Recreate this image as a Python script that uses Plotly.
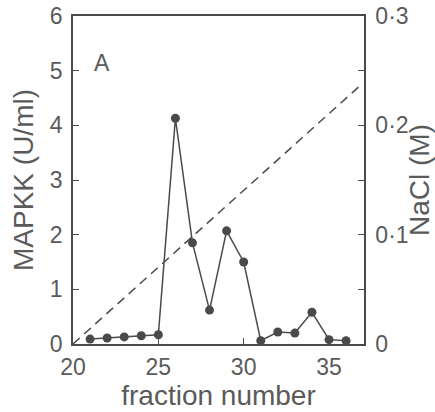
import plotly.graph_objects as go

fractions = [21, 22, 23, 24, 25, 26, 27, 28, 29, 30, 31, 32, 33, 34, 35, 36]
mapkk = [0.09, 0.11, 0.13, 0.15, 0.17, 4.13, 1.85, 0.62, 2.07, 1.50, 0.06, 0.22, 0.20, 0.58, 0.08, 0.06]

gradient_fraction = [20, 36.8]
gradient_nacl = [0, 0.236]

x_ticks = [20, 25, 30, 35]
y_ticks = [0, 1, 2, 3, 4, 5, 6]
y2_ticks = [0, 0.05, 0.1, 0.15, 0.2, 0.25, 0.3]
y2_labels = ["0", "", "0·1", "", "0·2", "", "0·3"]

ink = "#4a4a4a"
font = dict(family="Liberation Sans, Arial, sans-serif", size=23, color="#5a5a5a")

fig = go.Figure()
fig.add_trace(go.Scatter(
    x=gradient_fraction, y=gradient_nacl, yaxis="y2", mode="lines",
    line=dict(color=ink, width=1.5, dash="9px,6px"), showlegend=False,
    hoverinfo="skip"))
fig.add_trace(go.Scatter(
    x=fractions, y=mapkk, mode="lines+markers",
    line=dict(color=ink, width=1.5),
    marker=dict(color=ink, size=9), showlegend=False, cliponaxis=False))

fig.update_layout(
    width=435, height=412,
    margin=dict(l=73, r=71, t=16, b=68),
    paper_bgcolor="white", plot_bgcolor="white",
    font=font,
    xaxis=dict(range=[20, 37.05], tickvals=x_ticks, ticks="inside", ticklen=6,
               tickcolor=ink, showline=True, linecolor=ink, linewidth=1.5,
               mirror=True, showgrid=False, zeroline=False, automargin=False,
               ticklabelstandoff=2,
               title=dict(text="fraction number", standoff=6)),
    yaxis=dict(range=[0, 6], tickvals=y_ticks, ticks="inside", ticklen=6,
               tickcolor=ink, showline=True, linecolor=ink, linewidth=1.5,
               showgrid=False, zeroline=False, automargin=False,
               ticklabelstandoff=4, ticklabeloverflow="allow",
               title=dict(text="MAPKK (U/ml)", standoff=8)),
    yaxis2=dict(range=[0, 0.3], tickvals=y2_ticks, ticktext=y2_labels,
                overlaying="y", side="right", ticks="inside", ticklen=6,
                tickcolor=ink, showline=True, linecolor=ink, linewidth=1.5,
                showgrid=False, zeroline=False, automargin=False,
                ticklabelstandoff=5, ticklabeloverflow="allow",
                title=dict(text="NaCl (M)", standoff=8)),
    annotations=[dict(text="A", x=0.065, y=0.902, xref="paper", yref="paper",
                      showarrow=False, font=dict(size=23, color="#5a5a5a"))],
)

fig.write_html("out.html", config={"displayModeBar": False},
               post_script="document.body.style.margin='0';")
